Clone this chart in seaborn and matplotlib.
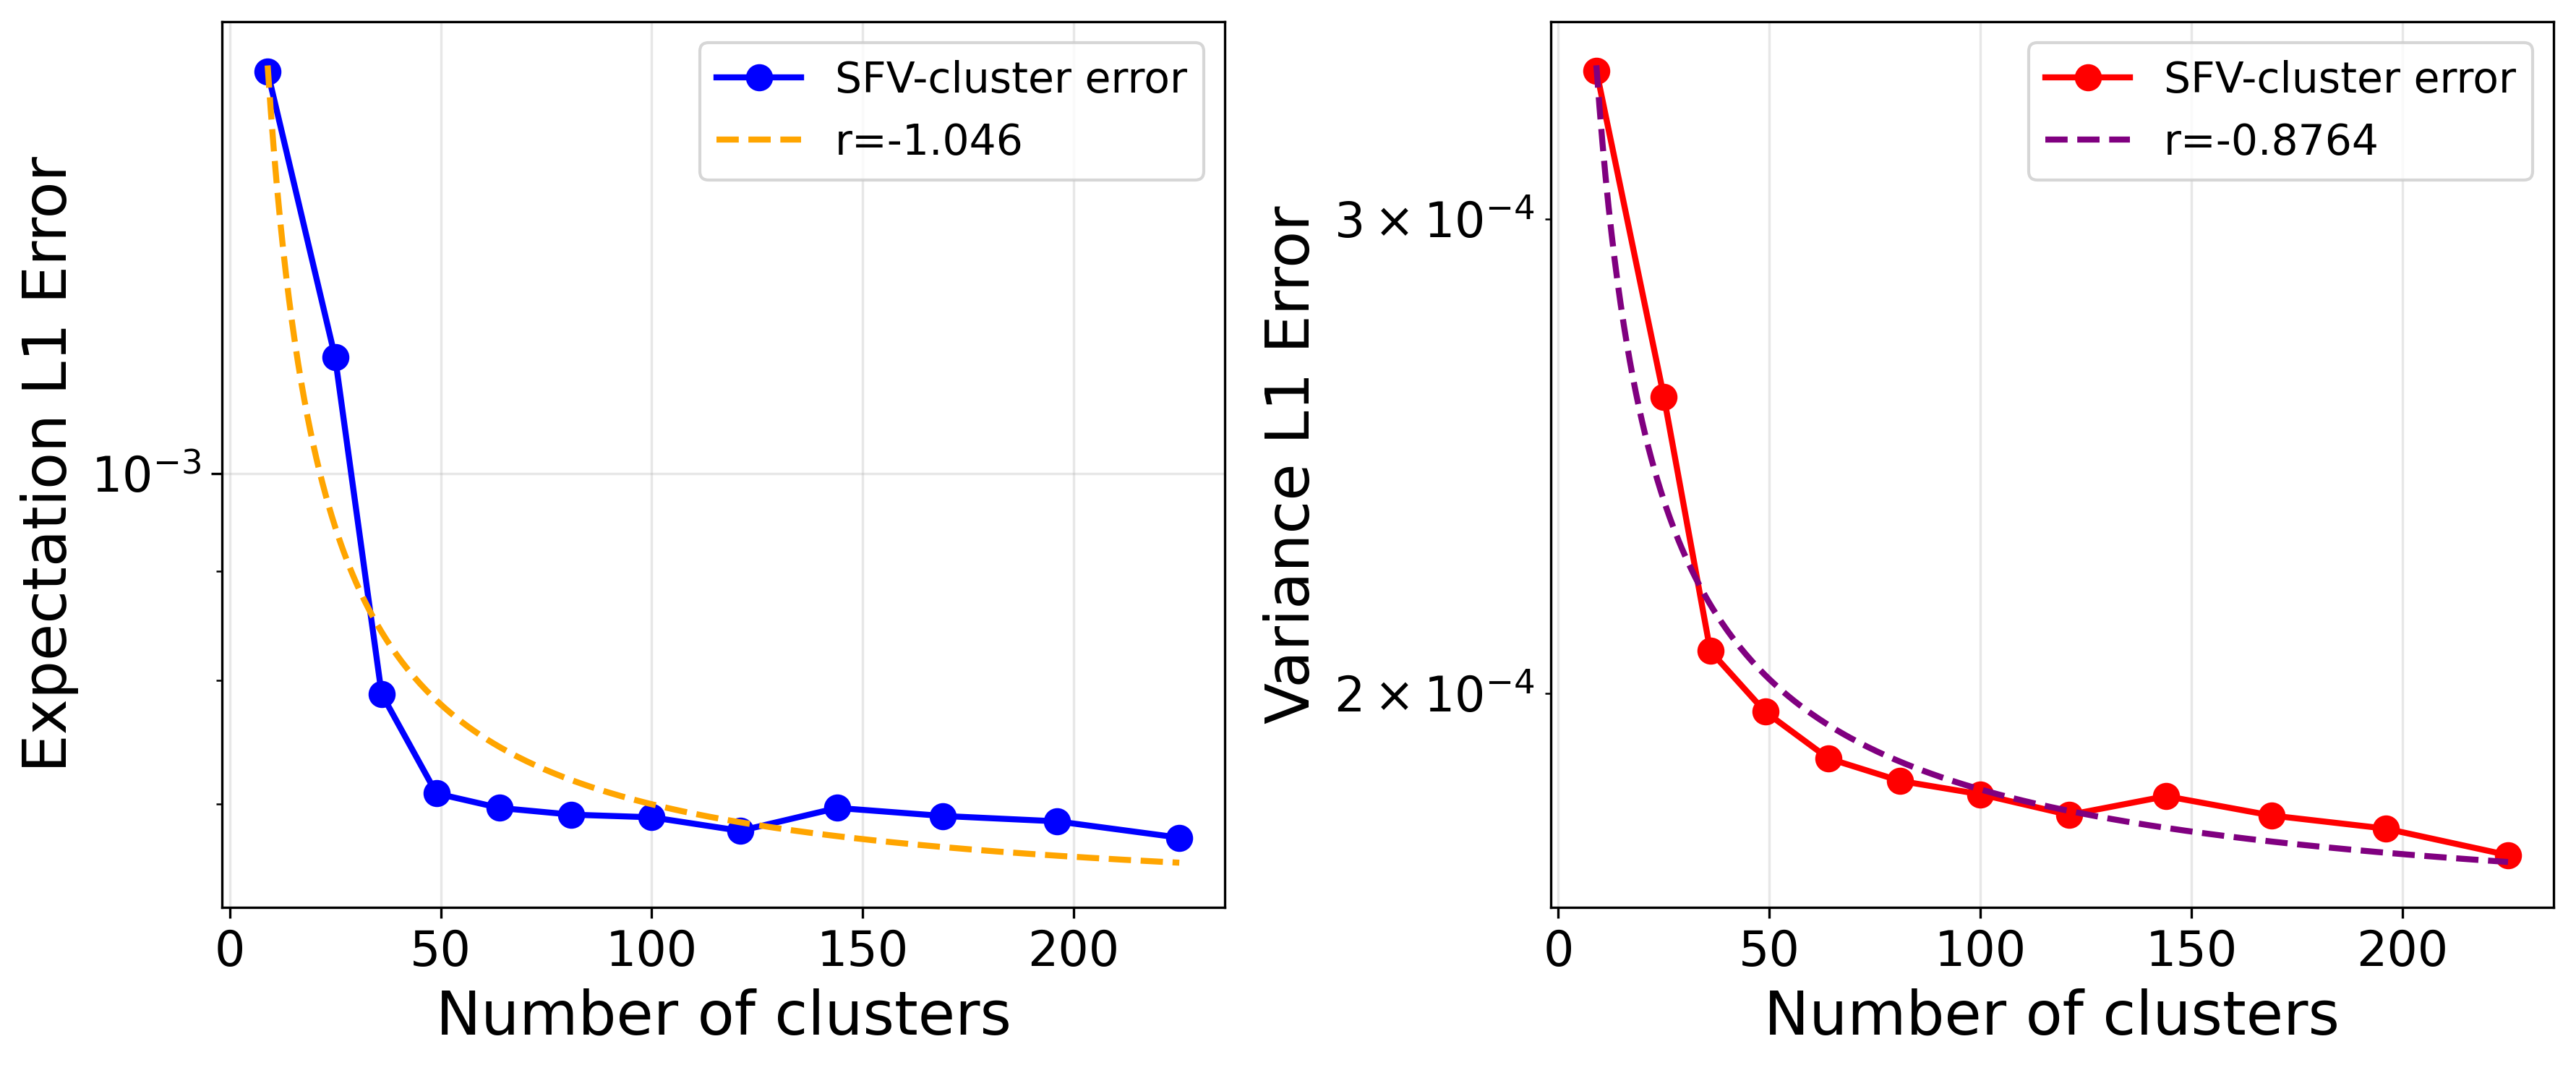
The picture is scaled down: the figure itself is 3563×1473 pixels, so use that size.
import numpy as np
import pandas as pd
import matplotlib
matplotlib.use('Agg')
import matplotlib.pyplot as plt
import seaborn as sns

# ==========================================
# data
# ==========================================
n_clusters = [9, 25, 36, 49, 64, 81, 100, 121, 144, 169, 196, 225]

exp_err = [1.544e-3, 1.134e-3, 7.885e-4, 7.08e-4, 6.97e-4, 6.92e-4,
           6.90e-4, 6.80e-4, 6.97e-4, 6.91e-4, 6.87e-4, 6.75e-4]
var_err = [3.405e-4, 2.577e-4, 2.074e-4, 1.969e-4, 1.892e-4, 1.856e-4,
           1.835e-4, 1.803e-4, 1.832e-4, 1.802e-4, 1.782e-4, 1.742e-4]

# fitted model y = a * x**r + c  (r from the legend, a and c estimated)
exp_fit_r, exp_fit_a, exp_fit_c = -1.046, 9.259e-3, 6.249e-4
var_fit_r, var_fit_a, var_fit_c = -0.8764, 1.2315e-3, 1.625e-4

exp_ylim = (6.26e-4, 1.63e-3)
var_ylim = (1.666e-4, 3.55e-4)

OUT = 'out.png'


def draw_panel(ax, y, fit, color, fit_color, ylabel, ylim):
    a, r, c = fit
    df = pd.DataFrame({'x': n_clusters, 'y': y})
    x_fit = np.linspace(min(n_clusters), max(n_clusters), 300)
    df_fit = pd.DataFrame({'x': x_fit, 'y': a * x_fit ** r + c})

    sns.lineplot(data=df, x='x', y='y', ax=ax, color=color, marker='o',
                 markersize=8, markeredgecolor=color, markeredgewidth=1,
                 linewidth=2, label='SFV-cluster error')
    sns.lineplot(data=df_fit, x='x', y='y', ax=ax, color=fit_color,
                 linestyle='--', linewidth=2, label=f'r={r}')

    ax.set_yscale('log')
    ax.set_ylim(*ylim)
    ax.set_xlabel('Number of clusters', fontsize=20)
    ax.set_ylabel(ylabel, fontsize=20)
    ax.tick_params(axis='both', which='both', labelsize=16)
    ax.grid(True, alpha=0.3)
    ax.legend(loc='upper right', fontsize=14)


def main():
    fig, axes = plt.subplots(1, 2, figsize=(3563 / 300, 1473 / 300), dpi=300)
    fig.subplots_adjust(left=0.0862, right=0.9913, bottom=0.148, top=0.9796,
                        wspace=0.325)

    draw_panel(axes[0], exp_err, (exp_fit_a, exp_fit_r, exp_fit_c),
               'blue', 'orange', 'Expectation L1 Error', exp_ylim)
    draw_panel(axes[1], var_err, (var_fit_a, var_fit_r, var_fit_c),
               'red', 'purple', 'Variance L1 Error', var_ylim)

    fig.savefig(OUT, dpi=300)
    plt.close(fig)


if __name__ == "__main__":
    main()
